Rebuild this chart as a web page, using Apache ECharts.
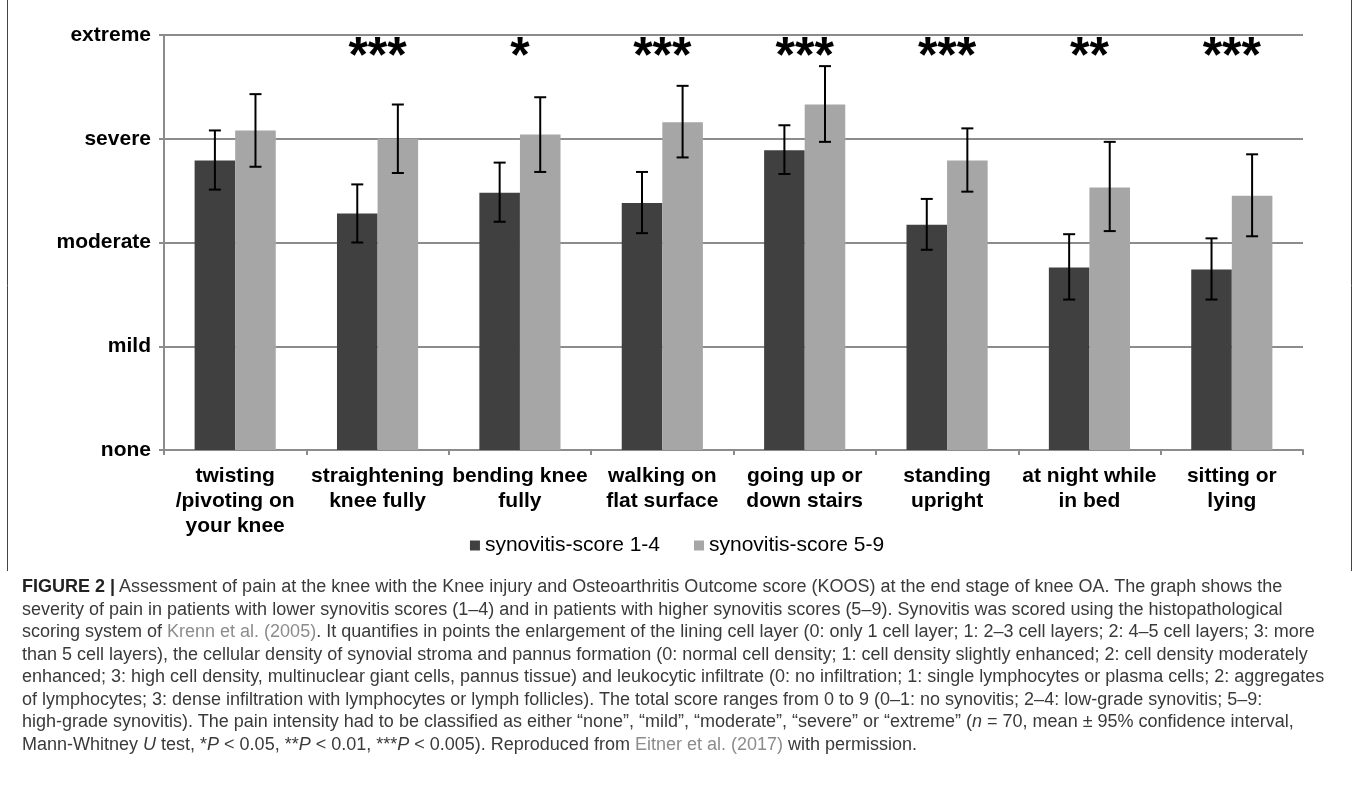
<!DOCTYPE html>
<html>
<head>
<meta charset="utf-8">
<script src="https://cdn.jsdelivr.net/npm/echarts@6/dist/echarts.min.js"></script>
<style>
  html, body { margin: 0; padding: 0; background: #fff; }
  #chart { position: absolute; left: 0; top: 0; width: 1354px; height: 800px; }
  #caption { position: absolute; left: 22px; top: 575px; width: 1320px;
    font-family: "Liberation Sans", Arial, sans-serif; font-size: 18px; line-height: 22.5px;
    color: #3a3a3a; white-space: nowrap; }
  #caption b { color: #222; }
  #caption .ref { color: #8c8c8c; }
</style>
</head>
<body>
<div id="chart"></div>
<div id="caption">
<div><b>FIGURE 2 |</b> Assessment of pain at the knee with the Knee injury and Osteoarthritis Outcome score (KOOS) at the end stage of knee OA. The graph shows the</div>
<div>severity of pain in patients with lower synovitis scores (1–4) and in patients with higher synovitis scores (5–9). Synovitis was scored using the histopathological</div>
<div>scoring system of <span class="ref">Krenn et al. (2005)</span>. It quantifies in points the enlargement of the lining cell layer (0: only 1 cell layer; 1: 2–3 cell layers; 2: 4–5 cell layers; 3: more</div>
<div>than 5 cell layers), the cellular density of synovial stroma and pannus formation (0: normal cell density; 1: cell density slightly enhanced; 2: cell density moderately</div>
<div>enhanced; 3: high cell density, multinuclear giant cells, pannus tissue) and leukocytic infiltrate (0: no infiltration; 1: single lymphocytes or plasma cells; 2: aggregates</div>
<div>of lymphocytes; 3: dense infiltration with lymphocytes or lymph follicles). The total score ranges from 0 to 9 (0–1: no synovitis; 2–4: low-grade synovitis; 5–9:</div>
<div>high-grade synovitis). The pain intensity had to be classified as either “none”, “mild”, “moderate”, “severe” or “extreme” (<i>n</i> = 70, mean ± 95% confidence interval,</div>
<div>Mann-Whitney <i>U</i> test, *<i>P</i> &lt; 0.05, **<i>P</i> &lt; 0.01, ***<i>P</i> &lt; 0.005). Reproduced from <span class="ref">Eitner et al. (2017)</span> with permission.</div>
</div>
<script>
const categories = [
  "twisting\n/pivoting on\nyour knee",
  "straightening\nknee fully",
  "bending knee\nfully",
  "walking on\nflat surface",
  "going up or\ndown stairs",
  "standing\nupright",
  "at night while\nin bed",
  "sitting or\nlying"
];
const yTickLabels = ["none", "mild", "moderate", "severe", "extreme"];
const seriesNames = ["synovitis-score 1-4", "synovitis-score 5-9"];

const lowMean  = [2.79, 2.28, 2.48, 2.38, 2.89, 2.17, 1.76, 1.74];
const lowCiLo  = [2.51, 2.00, 2.20, 2.09, 2.66, 1.93, 1.45, 1.45];
const lowCiHi  = [3.08, 2.56, 2.77, 2.68, 3.13, 2.42, 2.08, 2.04];

const highMean = [3.08, 3.00, 3.04, 3.16, 3.33, 2.79, 2.53, 2.45];
const highCiLo = [2.73, 2.67, 2.68, 2.82, 2.97, 2.49, 2.11, 2.06];
const highCiHi = [3.43, 3.33, 3.40, 3.51, 3.70, 3.10, 2.97, 2.85];

const significance = ["", "***", "*", "***", "***", "***", "**", "***"];

const FONT = '"Liberation Sans", Arial, sans-serif';
const CAT_GAP = 0.43;
const COLORS = ["#404040", "#a6a6a6"];

function errorSeries(lo, hi, sign) {
  return {
    type: "custom",
    silent: true,
    z: 5,
    encode: { x: 0, y: [1, 2] },
    data: lo.map((v, i) => [i, v, hi[i]]),
    renderItem: function (params, api) {
      const band = api.size([1, 0])[0];
      const off = sign * band * (1 - CAT_GAP) / 4;
      const p1 = api.coord([api.value(0), api.value(1)]);
      const p2 = api.coord([api.value(0), api.value(2)]);
      const x = p1[0] + off;
      const cap = 6;
      const st = { stroke: "#000", lineWidth: 2 };
      return {
        type: "group",
        children: [
          { type: "line", shape: { x1: x, y1: p1[1], x2: x, y2: p2[1] }, style: st },
          { type: "line", shape: { x1: x - cap, y1: p1[1], x2: x + cap, y2: p1[1] }, style: st },
          { type: "line", shape: { x1: x - cap, y1: p2[1], x2: x + cap, y2: p2[1] }, style: st }
        ]
      };
    }
  };
}

const chart = echarts.init(document.getElementById("chart"), null, { renderer: "canvas" });
chart.setOption({
  animation: false,
  backgroundColor: "#fff",
  textStyle: { fontFamily: FONT },
  grid: { left: 164, right: 51, top: 35, bottom: 350 },
  legend: {
    data: seriesNames,
    left: "center",
    top: 530,
    icon: "rect",
    itemWidth: 10,
    itemHeight: 10,
    itemGap: 34,
    textStyle: { fontSize: 21, color: "#000", fontFamily: FONT }
  },
  xAxis: {
    type: "category",
    data: categories,
    axisLine: { lineStyle: { color: "#8c8c8c", width: 2 } },
    axisTick: { show: true, length: 5, lineStyle: { color: "#8c8c8c", width: 2 } },
    axisLabel: {
      interval: 0, margin: 14, fontSize: 21, fontWeight: "bold", color: "#000",
      lineHeight: 25, fontFamily: FONT, hideOverlap: false
    }
  },
  yAxis: {
    type: "value",
    min: 0, max: 4, interval: 1,
    axisLine: { show: true, lineStyle: { color: "#8c8c8c", width: 2 } },
    axisTick: { show: true, length: 5, lineStyle: { color: "#8c8c8c", width: 2 } },
    splitLine: { lineStyle: { color: "#8c8c8c", width: 2 } },
    axisLabel: {
      margin: 13, fontSize: 21, fontWeight: "bold", color: "#000", fontFamily: FONT,
      formatter: function (v) { return yTickLabels[Math.round(v)]; }
    }
  },
  graphic: [
    { type: "line", shape: { x1: 7.5, y1: 0, x2: 7.5, y2: 571 }, style: { stroke: "#444", lineWidth: 1 } },
    { type: "line", shape: { x1: 1351.5, y1: 0, x2: 1351.5, y2: 571 }, style: { stroke: "#444", lineWidth: 1 } }
  ],
  series: [
    {
      name: seriesNames[0], type: "bar", data: lowMean,
      barGap: "0%", barCategoryGap: (CAT_GAP * 100) + "%",
      itemStyle: { color: COLORS[0] }
    },
    {
      name: seriesNames[1], type: "bar", data: highMean,
      barGap: "0%", barCategoryGap: (CAT_GAP * 100) + "%",
      itemStyle: { color: COLORS[1] }
    },
    errorSeries(lowCiLo, lowCiHi, -1),
    errorSeries(highCiLo, highCiHi, 1),
    {
      type: "custom",
      silent: true,
      z: 6,
      encode: { x: 0, y: 1 },
      data: significance.map((s, i) => [i, 3.78]),
      renderItem: function (params, api) {
        const p = api.coord([api.value(0), api.value(1)]);
        return {
          type: "text",
          x: p[0], y: p[1],
          style: {
            text: significance[params.dataIndex],
            fontSize: 50, fontWeight: "bold", fontFamily: FONT,
            fill: "#000", align: "center", verticalAlign: "middle"
          }
        };
      }
    }
  ]
});
</script>
</body>
</html>
